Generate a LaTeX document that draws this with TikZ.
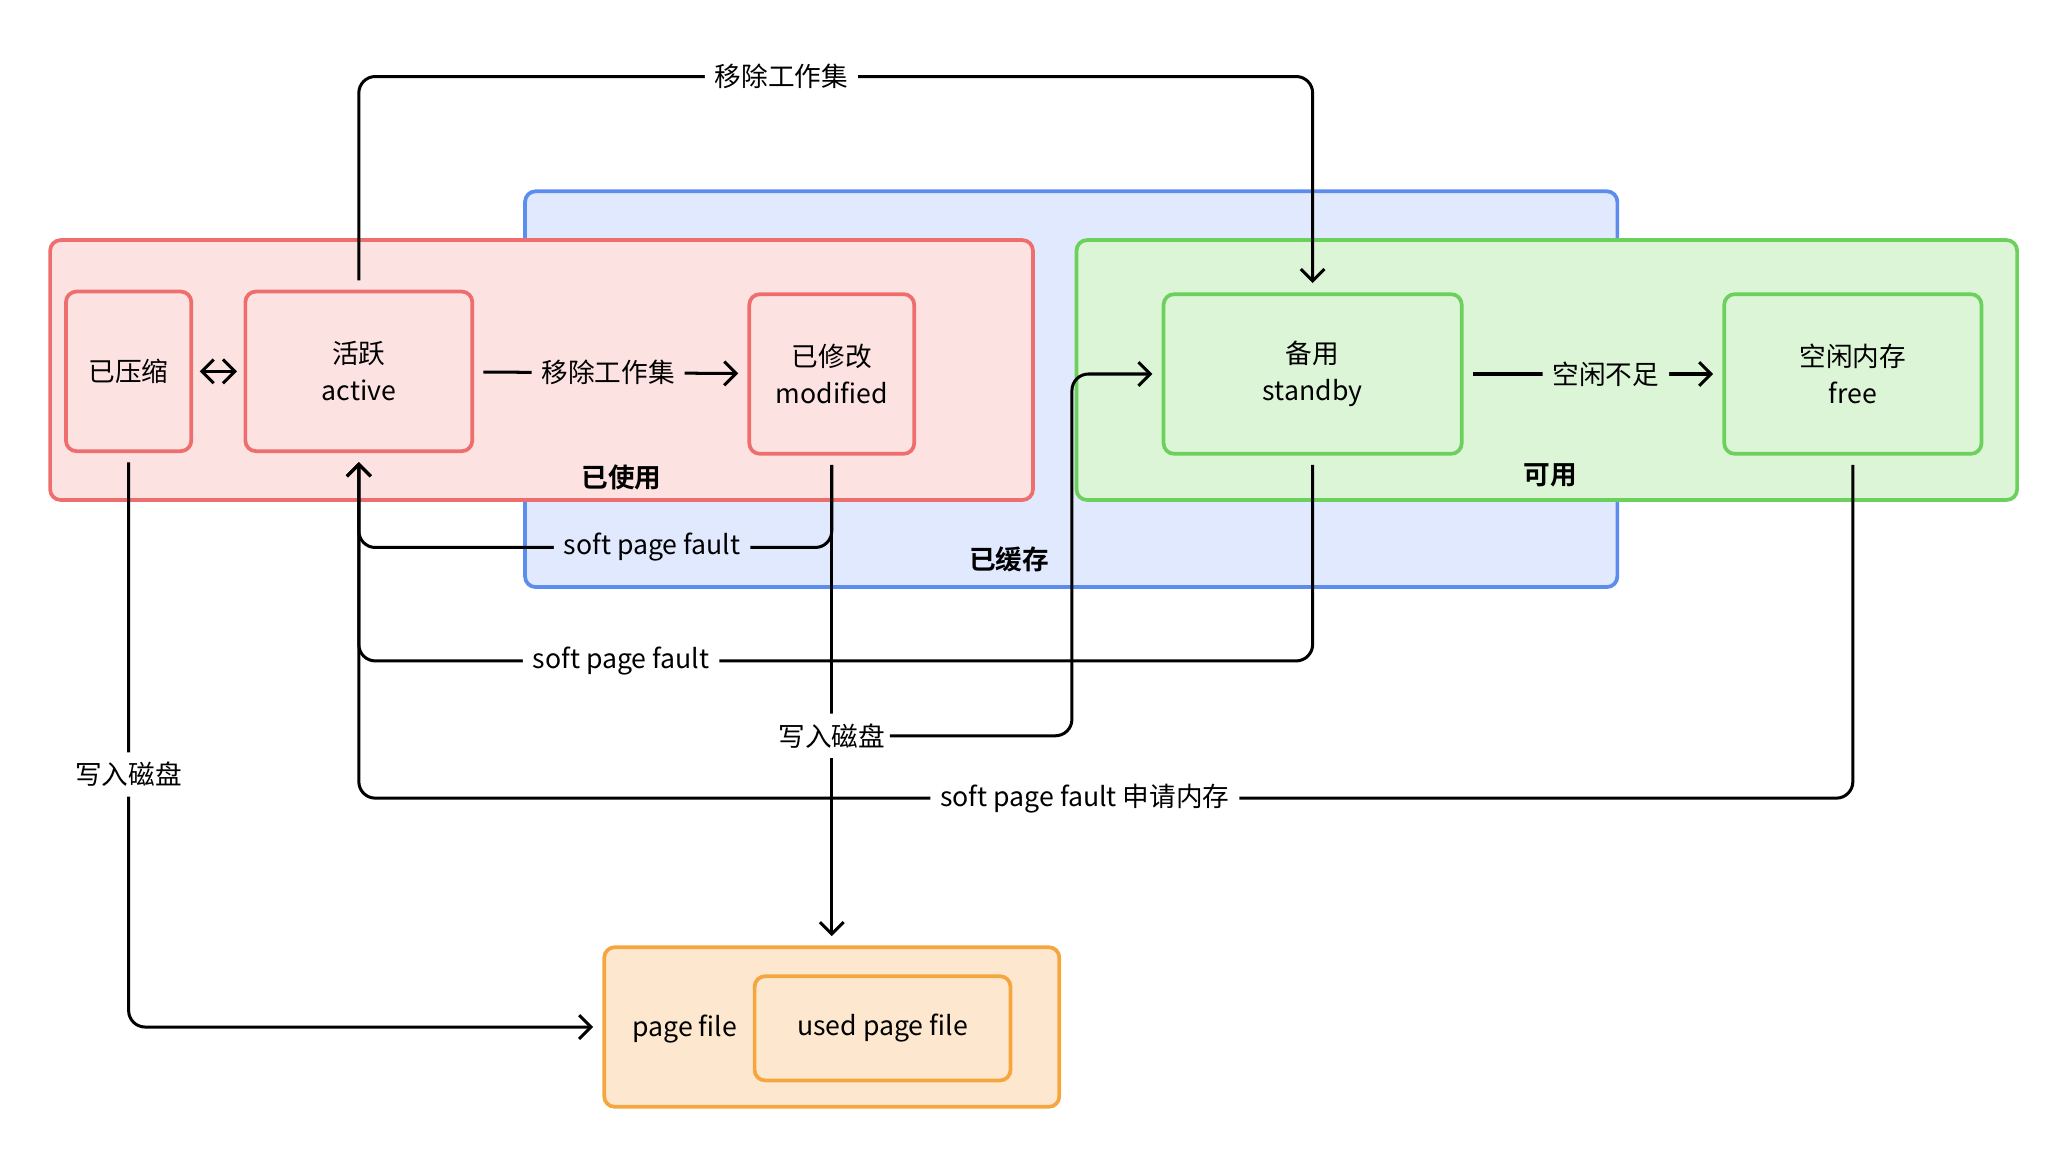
\documentclass[tikz,border=0pt]{standalone}
\usepackage{fontspec}
\setmainfont{Noto Sans CJK SC}[BoldFont={Noto Sans CJK SC Bold}]
\usepackage{tikz}
\usetikzlibrary{arrows.meta,positioning,calc}
\definecolor{redfill}{HTML}{FDE2E2}\definecolor{redline}{HTML}{EE6E6E}
\definecolor{bluefill}{HTML}{E0E9FD}\definecolor{blueline}{HTML}{5B8DEF}
\definecolor{greenfill}{HTML}{DDF5D7}\definecolor{greenline}{HTML}{6CD15C}
\definecolor{orfill}{HTML}{FDE8CF}\definecolor{orline}{HTML}{F5A63F}
\tikzset{
	box/.style={draw, line width=1.6pt, rounded corners=0.16cm, align=center, inner sep=0pt},
	flow/.style={line width=1.3pt, rounded corners=0.25cm, shorten <=0.14cm, shorten >=0.14cm, -{Straight Barb[length=0.18cm,width=0.36cm]}},
	lab/.style={fill=white, inner sep=0.15cm}
}
\begin{document}
\begin{tikzpicture}[x=0.02cm, y=-0.02cm, font=\fontsize{11.5}{16}\selectfont]
	\useasboundingbox (0,0) rectangle (1560,873.2);
	% containers
	\node[box, draw=blueline, fill=bluefill, minimum width=828*0.02cm, minimum height=300*0.02cm] (cached) at (812,295) {};
	\node[box, draw=redline, fill=redfill, minimum width=745*0.02cm, minimum height=197*0.02cm] (used) at (410.5,280.5) {};
	\node[box, draw=greenline, fill=greenfill, minimum width=713*0.02cm, minimum height=197*0.02cm] (avail) at (1172.5,280.5) {};
	\node[font=\fontsize{11.5}{16}\selectfont\bfseries] at (471,362) {已使用};
	\node[font=\fontsize{11.5}{16}\selectfont\bfseries] at (765,424) {已缓存};
	\node[font=\fontsize{11.5}{16}\selectfont\bfseries] at (1175,360) {可用};
	% states
	\node[box, draw=redline, fill=redfill, minimum width=95*0.02cm, minimum height=121*0.02cm] (zip) at (97.5,281.5) {已压缩};
	\node[box, draw=redline, fill=redfill, minimum width=172*0.02cm, minimum height=121*0.02cm] (active) at (272,281.5) {活跃\\active};
	\node[box, draw=redline, fill=redfill, minimum width=125*0.02cm, minimum height=121*0.02cm] (modified) at (630.5,283.5) {已修改\\modified};
	\node[box, draw=greenline, fill=greenfill, minimum width=226*0.02cm, minimum height=121*0.02cm] (standby) at (995,283.5) {备用\\standby};
	\node[box, draw=greenline, fill=greenfill, minimum width=195*0.02cm, minimum height=121*0.02cm] (free) at (1404.5,283.5) {空闲内存\\free};
	% page file
	\node[box, draw=orline, fill=orfill, minimum width=345*0.02cm, minimum height=121*0.02cm] (pagefile) at (630.5,778.5) {};
	\node at (519,780) {page file};
	\node[box, draw=orline, fill=orfill, minimum width=194*0.02cm, minimum height=79*0.02cm] (usedpf) at (669,779.5) {used page file};
	% transitions
	\draw[flow] (active.north) -- (active.north |- 0,58) -- node[lab,pos=0.443]{移除工作集} (standby.north |- 0,58) -- (standby.north);
	\draw[flow, shorten <=0.1cm, shorten >=0.1cm, {Straight Barb[length=0.18cm,width=0.36cm]}-{Straight Barb[length=0.18cm,width=0.36cm]}] (zip) -- (active);
	\draw[flow] (active) -- node[lab,fill=redfill,pos=0.49]{移除工作集} (modified);
	\draw[flow] (standby) -- node[lab,fill=greenfill,pos=0.55]{空闲不足} (free);
	\draw[flow] (modified.south) -- (modified.south |- 0,415) -- node[lab,fill=bluefill,pos=0.38]{soft page fault} (active.south |- 0,415) -- (active.south);
	\draw[flow] (standby.south) -- (standby.south |- 0,501) -- node[lab,pos=0.725]{soft page fault} (active.south |- 0,501) -- (active.south);
	\draw[flow] (free.south) -- (free.south |- 0,605) -- node[lab,pos=0.514]{soft page fault 申请内存} (active.south |- 0,605) -- (active.south);
	\draw[flow] (modified.south) -- node[lab,pos=0.572,inner xsep=0.05cm] (disk) {写入磁盘} (pagefile.north);
	\draw[flow, shorten <=0pt] (disk.east) -- ++(138,0) |- (standby.west);
	\draw[flow] (zip.south) |- node[lab,pos=0.28]{写入磁盘} (pagefile.west);
\end{tikzpicture}
\end{document}
